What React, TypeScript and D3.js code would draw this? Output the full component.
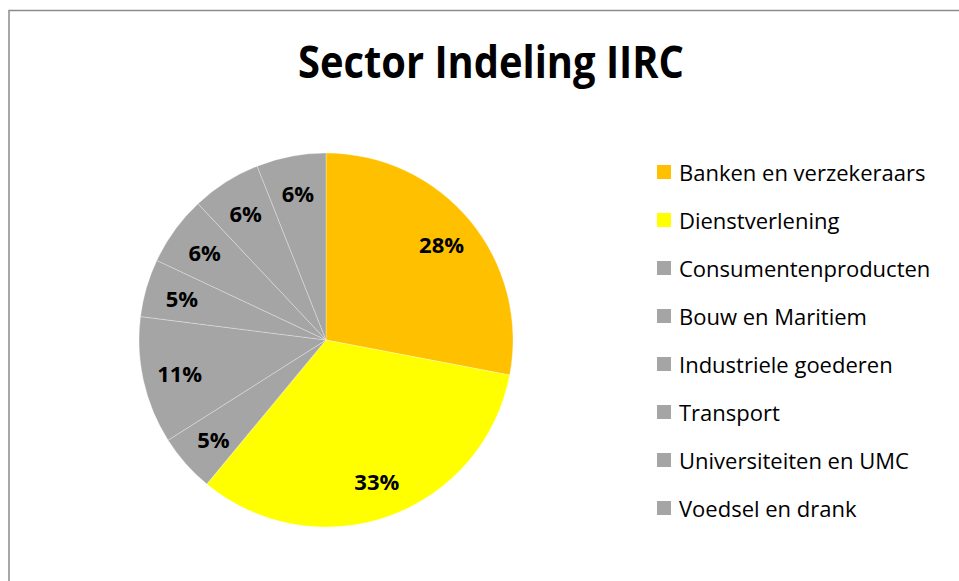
import React from "react";
import * as d3 from "d3";

const categories = [
  "Banken en verzekeraars",
  "Dienstverlening",
  "Consumentenproducten",
  "Bouw en Maritiem",
  "Industriele goederen",
  "Transport",
  "Universiteiten en UMC",
  "Voedsel en drank",
];
const values = [28, 33, 5, 11, 5, 6, 6, 6];
const colors = ["#FFC000", "#FFFF00", "#A5A5A5", "#A5A5A5", "#A5A5A5", "#A5A5A5", "#A5A5A5", "#A5A5A5"];
const title = "Sector Indeling IIRC";

export default function App() {
  const W = 959, H = 581;
  const cx = 326, cy = 340, r = 187;
  const total = d3.sum(values);
  const pie = d3.pie<number>().sort(null).value((d) => d)(values);
  const arc = d3.arc<d3.PieArcDatum<number>>().innerRadius(0).outerRadius(r);
  const labelArc = d3.arc<d3.PieArcDatum<number>>().innerRadius(150).outerRadius(150);
  const legendY = d3.scalePoint<string>().domain(categories).range([172, 508]);
  const fmt = d3.format(".0%");
  return (
    <svg width={W} height={H} style={{ position: "absolute", left: 0, top: 0 }} fontFamily="'Open Sans', sans-serif">
      <rect x={0} y={0} width={W} height={H} fill="#fff" />
      <rect x={9} y={10.5} width={W + 20} height={H + 20} fill="none" stroke="#8c8c8c" strokeWidth={1.5} />
      <text x={491} y={78} textAnchor="middle" fontSize={44} fontWeight="bold" textLength={386} lengthAdjust="spacingAndGlyphs" fill="#000">
        {title}
      </text>
      <g transform={`translate(${cx},${cy})`}>
        {pie.map((p, i) => (
          <path key={i} d={arc(p) || ""} fill={colors[i]} stroke="#fff" strokeOpacity={0.4} strokeWidth={0.75} />
        ))}
        {pie.map((p, i) => {
          const [x, y] = labelArc.centroid(p);
          return (
            <text key={i} x={x} y={y} textAnchor="middle" dominantBaseline="central" fontSize={22} fontWeight="bold" fill="#000">
              {fmt(values[i] / total)}
            </text>
          );
        })}
      </g>
      <g>
        {categories.map((c, i) => {
          const y = legendY(c) || 0;
          return (
            <g key={c}>
              <rect x={657} y={y - 7} width={14} height={14} fill={colors[i]} />
              <text x={679} y={y} dominantBaseline="central" fontSize={22} fill="#000">
                {c}
              </text>
            </g>
          );
        })}
      </g>
    </svg>
  );
}
